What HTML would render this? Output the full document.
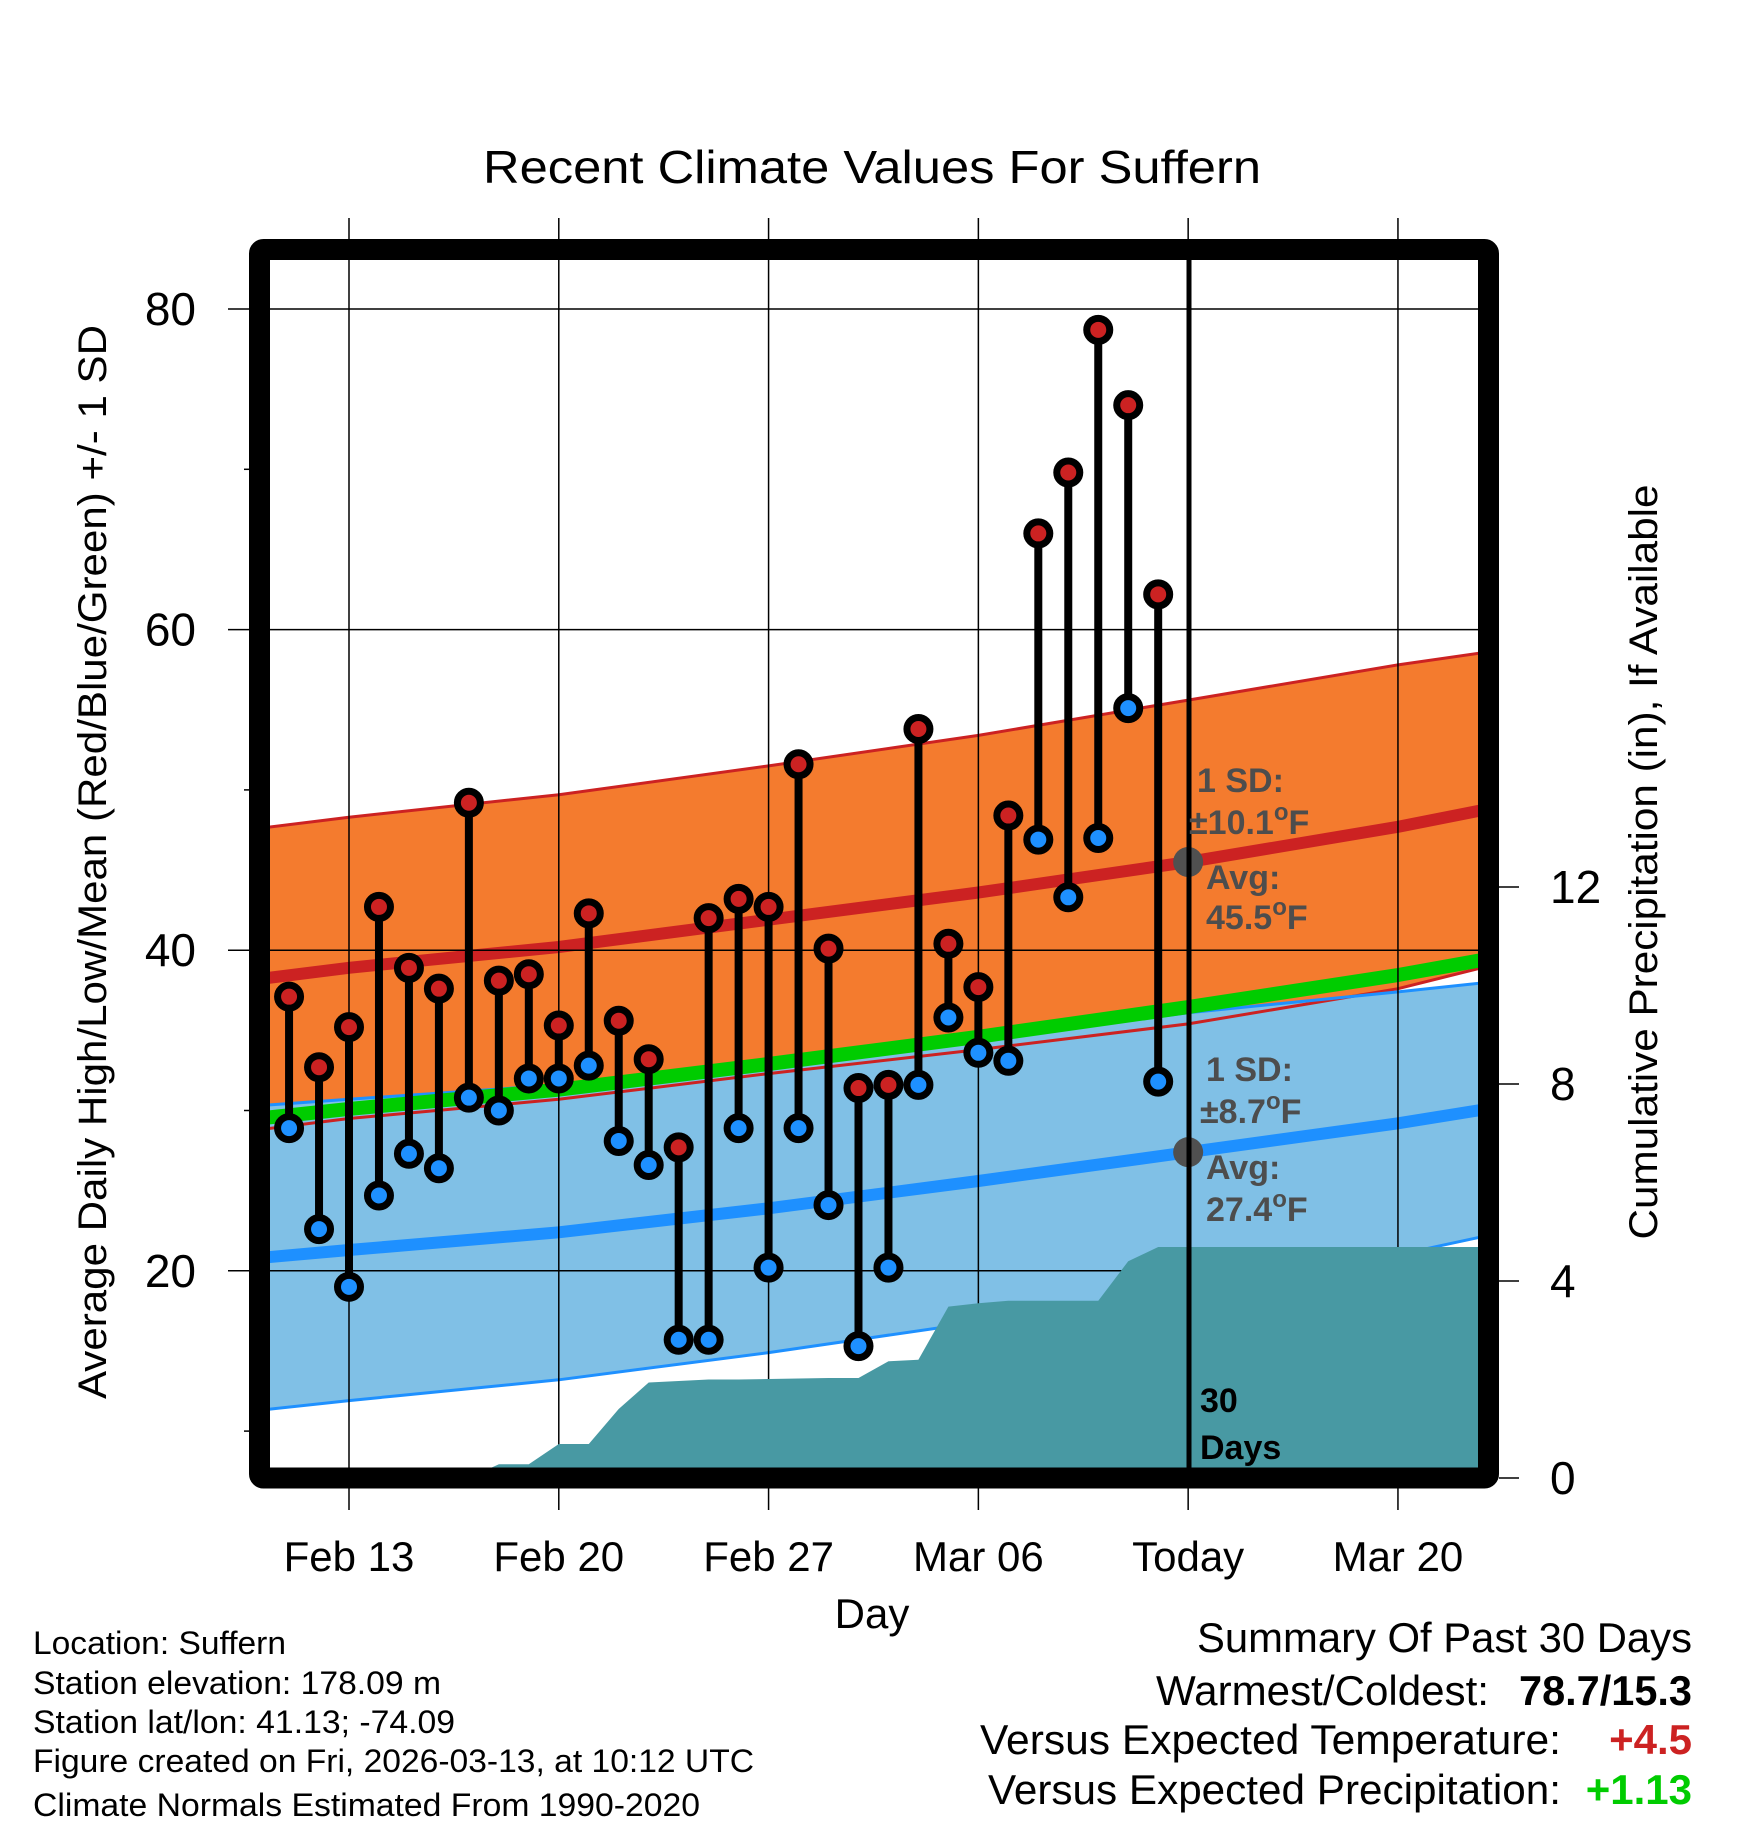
<!DOCTYPE html>
<html><head><meta charset="utf-8"><title>Recent Climate Values For Suffern</title>
<style>
html,body{margin:0;padding:0;background:#fff;}
svg{display:block;font-family:"Liberation Sans",Arial,sans-serif;}
</style></head>
<body>
<svg id="chart" width="1748" height="1828" viewBox="0 0 1748 1828" xmlns="http://www.w3.org/2000/svg">
<defs><clipPath id="plotclip"><rect x="270" y="260" width="1208" height="1208"/></clipPath></defs>
<rect width="1748" height="1828" fill="#fff"/>
<text x="872" y="183" font-size="46" text-anchor="middle" textLength="778" lengthAdjust="spacingAndGlyphs">Recent Climate Values For Suffern</text>
<g id="bands" clip-path="url(#plotclip)"></g>
<g id="grid"></g>
<g id="precip" clip-path="url(#plotclip)"></g>
<line x1="1189" y1="260" x2="1189" y2="1468" stroke="#000" stroke-width="5"/>
<g id="marks"></g>
<g id="annot" font-weight="bold" font-size="34" fill="#4d4d4d">
<text x="1197" y="792">1 SD:</text>
<text x="1189" y="834">±10.1<tspan font-size="24" dy="-14">o</tspan><tspan dy="14">F</tspan></text>
<text x="1206" y="889">Avg:</text>
<text x="1206" y="929">45.5<tspan font-size="24" dy="-14">o</tspan><tspan dy="14">F</tspan></text>
<text x="1206" y="1081">1 SD:</text>
<text x="1200" y="1123">±8.7<tspan font-size="24" dy="-14">o</tspan><tspan dy="14">F</tspan></text>
<text x="1206" y="1179">Avg:</text>
<text x="1206" y="1221">27.4<tspan font-size="24" dy="-14">o</tspan><tspan dy="14">F</tspan></text>
<text x="1200" y="1412" fill="#000">30</text>
<text x="1200" y="1459" fill="#000">Days</text>
</g>
<rect x="259.5" y="249.5" width="1229" height="1228.5" fill="none" stroke="#000" stroke-width="21" rx="4"/>
<g id="axes"></g>
<text transform="translate(106,862) rotate(-90)" font-size="40" text-anchor="middle" textLength="1074" lengthAdjust="spacingAndGlyphs">Average Daily High/Low/Mean (Red/Blue/Green) +/- 1 SD</text>
<text transform="translate(1657,862) rotate(-90)" font-size="40" text-anchor="middle" textLength="755" lengthAdjust="spacingAndGlyphs">Cumulative Precipitation (in), If Available</text>
<text x="872" y="1628" font-size="42" text-anchor="middle">Day</text>
<g font-size="32">
<text x="33" y="1654" textLength="253" lengthAdjust="spacingAndGlyphs">Location: Suffern</text>
<text x="33" y="1694" textLength="408" lengthAdjust="spacingAndGlyphs">Station elevation: 178.09 m</text>
<text x="33" y="1733" textLength="422" lengthAdjust="spacingAndGlyphs">Station lat/lon: 41.13; -74.09</text>
<text x="33" y="1772" textLength="721" lengthAdjust="spacingAndGlyphs">Figure created on Fri, 2026-03-13, at 10:12 UTC</text>
<text x="33" y="1816" textLength="667" lengthAdjust="spacingAndGlyphs">Climate Normals Estimated From 1990-2020</text>
</g>
<g font-size="42">
<text x="1197" y="1652" textLength="495" lengthAdjust="spacingAndGlyphs">Summary Of Past 30 Days</text>
<text x="1156" y="1705" textLength="333" lengthAdjust="spacingAndGlyphs">Warmest/Coldest:</text>
<text x="1519" y="1705" font-weight="bold" textLength="173" lengthAdjust="spacingAndGlyphs">78.7/15.3</text>
<text x="980" y="1754" textLength="581" lengthAdjust="spacingAndGlyphs">Versus Expected Temperature:</text>
<text x="1692" y="1754" font-weight="bold" fill="#cc2222" text-anchor="end">+4.5</text>
<text x="988" y="1804" textLength="573" lengthAdjust="spacingAndGlyphs">Versus Expected Precipitation:</text>
<text x="1692" y="1804" font-weight="bold" fill="#00cc00" text-anchor="end">+1.13</text>
</g>
</svg>
<script>
// ---- data ----
const days = [-2,-1,0,1,2,3,4,5,6,7,8,9,10,11,12,13,14,15,16,17,18,19,20,21,22,23,24,25,26,27];
const highs = [37.1,32.7,35.2,42.7,38.9,37.6,49.2,38.1,38.5,35.3,42.3,35.6,33.2,27.7,42.0,43.2,42.7,51.6,40.1,31.4,31.6,53.8,40.4,37.7,48.4,66.0,69.8,78.7,74.0,62.2];
const lows = [28.9,22.6,19.0,24.7,27.3,26.4,30.8,30.0,32.0,32.0,32.8,28.1,26.6,15.7,15.7,28.9,20.2,28.9,24.1,15.3,20.2,31.6,35.8,33.6,33.1,46.9,43.3,47.0,55.1,31.8];
const precip = [0,0,0,0,0,0,0,0.28,0.28,0.69,0.69,1.4,1.94,1.97,2.0,2.0,2.01,2.02,2.03,2.03,2.37,2.4,3.48,3.55,3.6,3.6,3.6,3.6,4.4,4.69];
const normDays = [-3,0,7,14,21,28,35,38];
const normHigh = [38.2,38.9,40.2,41.9,43.6,45.5,47.7,48.8];
const normHighSD = [9.4,9.4,9.5,9.6,9.8,10.1,10.1,9.8];
const normLow = [20.8,21.3,22.4,23.9,25.6,27.4,29.2,30.1];
const normLowSD = [9.5,9.4,9.2,9.0,8.8,8.7,8.2,7.9];
const xTickDays = [0,7,14,21,28,35];
const xTickLabels = ["Feb 13","Feb 20","Feb 27","Mar 06","Today","Mar 20"];
const yTicks = [80,60,40,20];
const yMinorTicks = [70,50,30,10];
const pTicks = [0,4,8,12];

// ---- scales ----
const xd = d => 349 + d*29.97;
const yT = t => 309 + (80-t)*16.03;
const yP = p => 1478 - p*49.25;
const NS = "http://www.w3.org/2000/svg";
function mk(tag, parent, attrs){const e=document.createElementNS(NS,tag);for(const k in attrs)e.setAttribute(k,attrs[k]);parent.appendChild(e);return e;}
const pts = (xs, ys) => xs.map((x,i)=>x.toFixed(1)+","+ys[i].toFixed(1)).join(" ");

const bands = document.getElementById('bands');
const nx = normDays.map(xd);
const hiUp = normHigh.map((v,i)=>yT(v+normHighSD[i]));
const hiDn = normHigh.map((v,i)=>yT(v-normHighSD[i]));
const loUp = normLow.map((v,i)=>yT(v+normLowSD[i]));
const loDn = normLow.map((v,i)=>yT(v-normLowSD[i]));
let e;
e = mk('polygon', bands, {points: pts(nx,hiUp)+" "+pts(nx.slice().reverse(),hiDn.slice().reverse()), fill:'#f47b2e'});


e = mk('polygon', bands, {points: pts(nx,loUp)+" "+pts(nx.slice().reverse(),loDn.slice().reverse()), fill:'#80c0e6'});


[[hiUp,'#cc2222','high-sd-upper'],[hiDn,'#cc2222','high-sd-lower'],[loUp,'#1e90ff','low-sd-upper'],[loDn,'#1e90ff','low-sd-lower']].forEach(a=>{
  const l = mk('polyline', bands, {points: pts(nx,a[0]), fill:'none', stroke:a[1], 'stroke-width':3});
  
  
});
const meanY = normHigh.map((v,i)=>yT((v+normLow[i])/2));
e = mk('polyline', bands, {points: pts(nx,meanY), fill:'none', stroke:'#00cc00', 'stroke-width':14});


e = mk('polyline', bands, {points: pts(nx,normHigh.map(yT)), fill:'none', stroke:'#cc2222', 'stroke-width':12});


e = mk('polyline', bands, {points: pts(nx,normLow.map(yT)), fill:'none', stroke:'#1e90ff', 'stroke-width':12});



// grid
const grid = document.getElementById('grid');
yTicks.forEach(t=>{
  const l = mk('line', grid, {x1:228, x2:1478, y1:yT(t), y2:yT(t), stroke:'#000', 'stroke-width':1.5});
  
  
});
xTickDays.forEach(d=>{
  const l = mk('line', grid, {x1:xd(d), x2:xd(d), y1:218, y2:1510, stroke:'#000', 'stroke-width':1.5});
  
  
});

// precip
const pg = document.getElementById('precip');
const px = days.map(xd), py = precip.map(yP);
let pstr = xd(days[0]).toFixed(1)+","+yP(0)+" "+pts(px,py)+" 1480,"+py[py.length-1].toFixed(1)+" 1480,"+yP(0);
e = mk('polygon', pg, {points:pstr, fill:'#4899a3'});



// today avg dots
const todayIdx = normDays.indexOf(28);
e = mk('circle', pg, {cx:xd(28), cy:yT(normHigh[todayIdx]), r:15, fill:'#505050'});


e = mk('circle', pg, {cx:xd(28), cy:yT(normLow[todayIdx]), r:15, fill:'#505050'});



// daily marks
const marks = document.getElementById('marks');
days.forEach((d,i)=>{
  const x = xd(d);
  const s = mk('line', marks, {x1:x, x2:x, y1:yT(highs[i]), y2:yT(lows[i]), stroke:'#000', 'stroke-width':8});
  
  
  const h = mk('circle', marks, {cx:x, cy:yT(highs[i]), r:11.5, fill:'#cc2222', stroke:'#000', 'stroke-width':7});
  
  
  const lo = mk('circle', marks, {cx:x, cy:yT(lows[i]), r:11.5, fill:'#1e90ff', stroke:'#000', 'stroke-width':7});
  
  
});

// axes
const ax = document.getElementById('axes');
yTicks.forEach(t=>{
  const tx = mk('text', ax, {x:196, y:yT(t)+16, 'font-size':46, 'text-anchor':'end'});
  tx.textContent = t;
  
  
});
yMinorTicks.forEach(t=>{
  const l = mk('line', ax, {x1:244, x2:252, y1:yT(t), y2:yT(t), stroke:'#000', 'stroke-width':1.5});
  
  
});
pTicks.forEach(p=>{
  const l = mk('line', ax, {x1:1499, x2:1519, y1:yP(p), y2:yP(p), stroke:'#000', 'stroke-width':1.5});
  
  
  const tx = mk('text', ax, {x:1550, y:yP(p)+16, 'font-size':46});
  tx.textContent = p;
  
  
});
xTickDays.forEach((d,i)=>{
  const tx = mk('text', ax, {x:xd(d), y:1571, 'font-size':42, 'text-anchor':'middle'});
  tx.textContent = xTickLabels[i];
  
  
});
</script>
</body></html>
